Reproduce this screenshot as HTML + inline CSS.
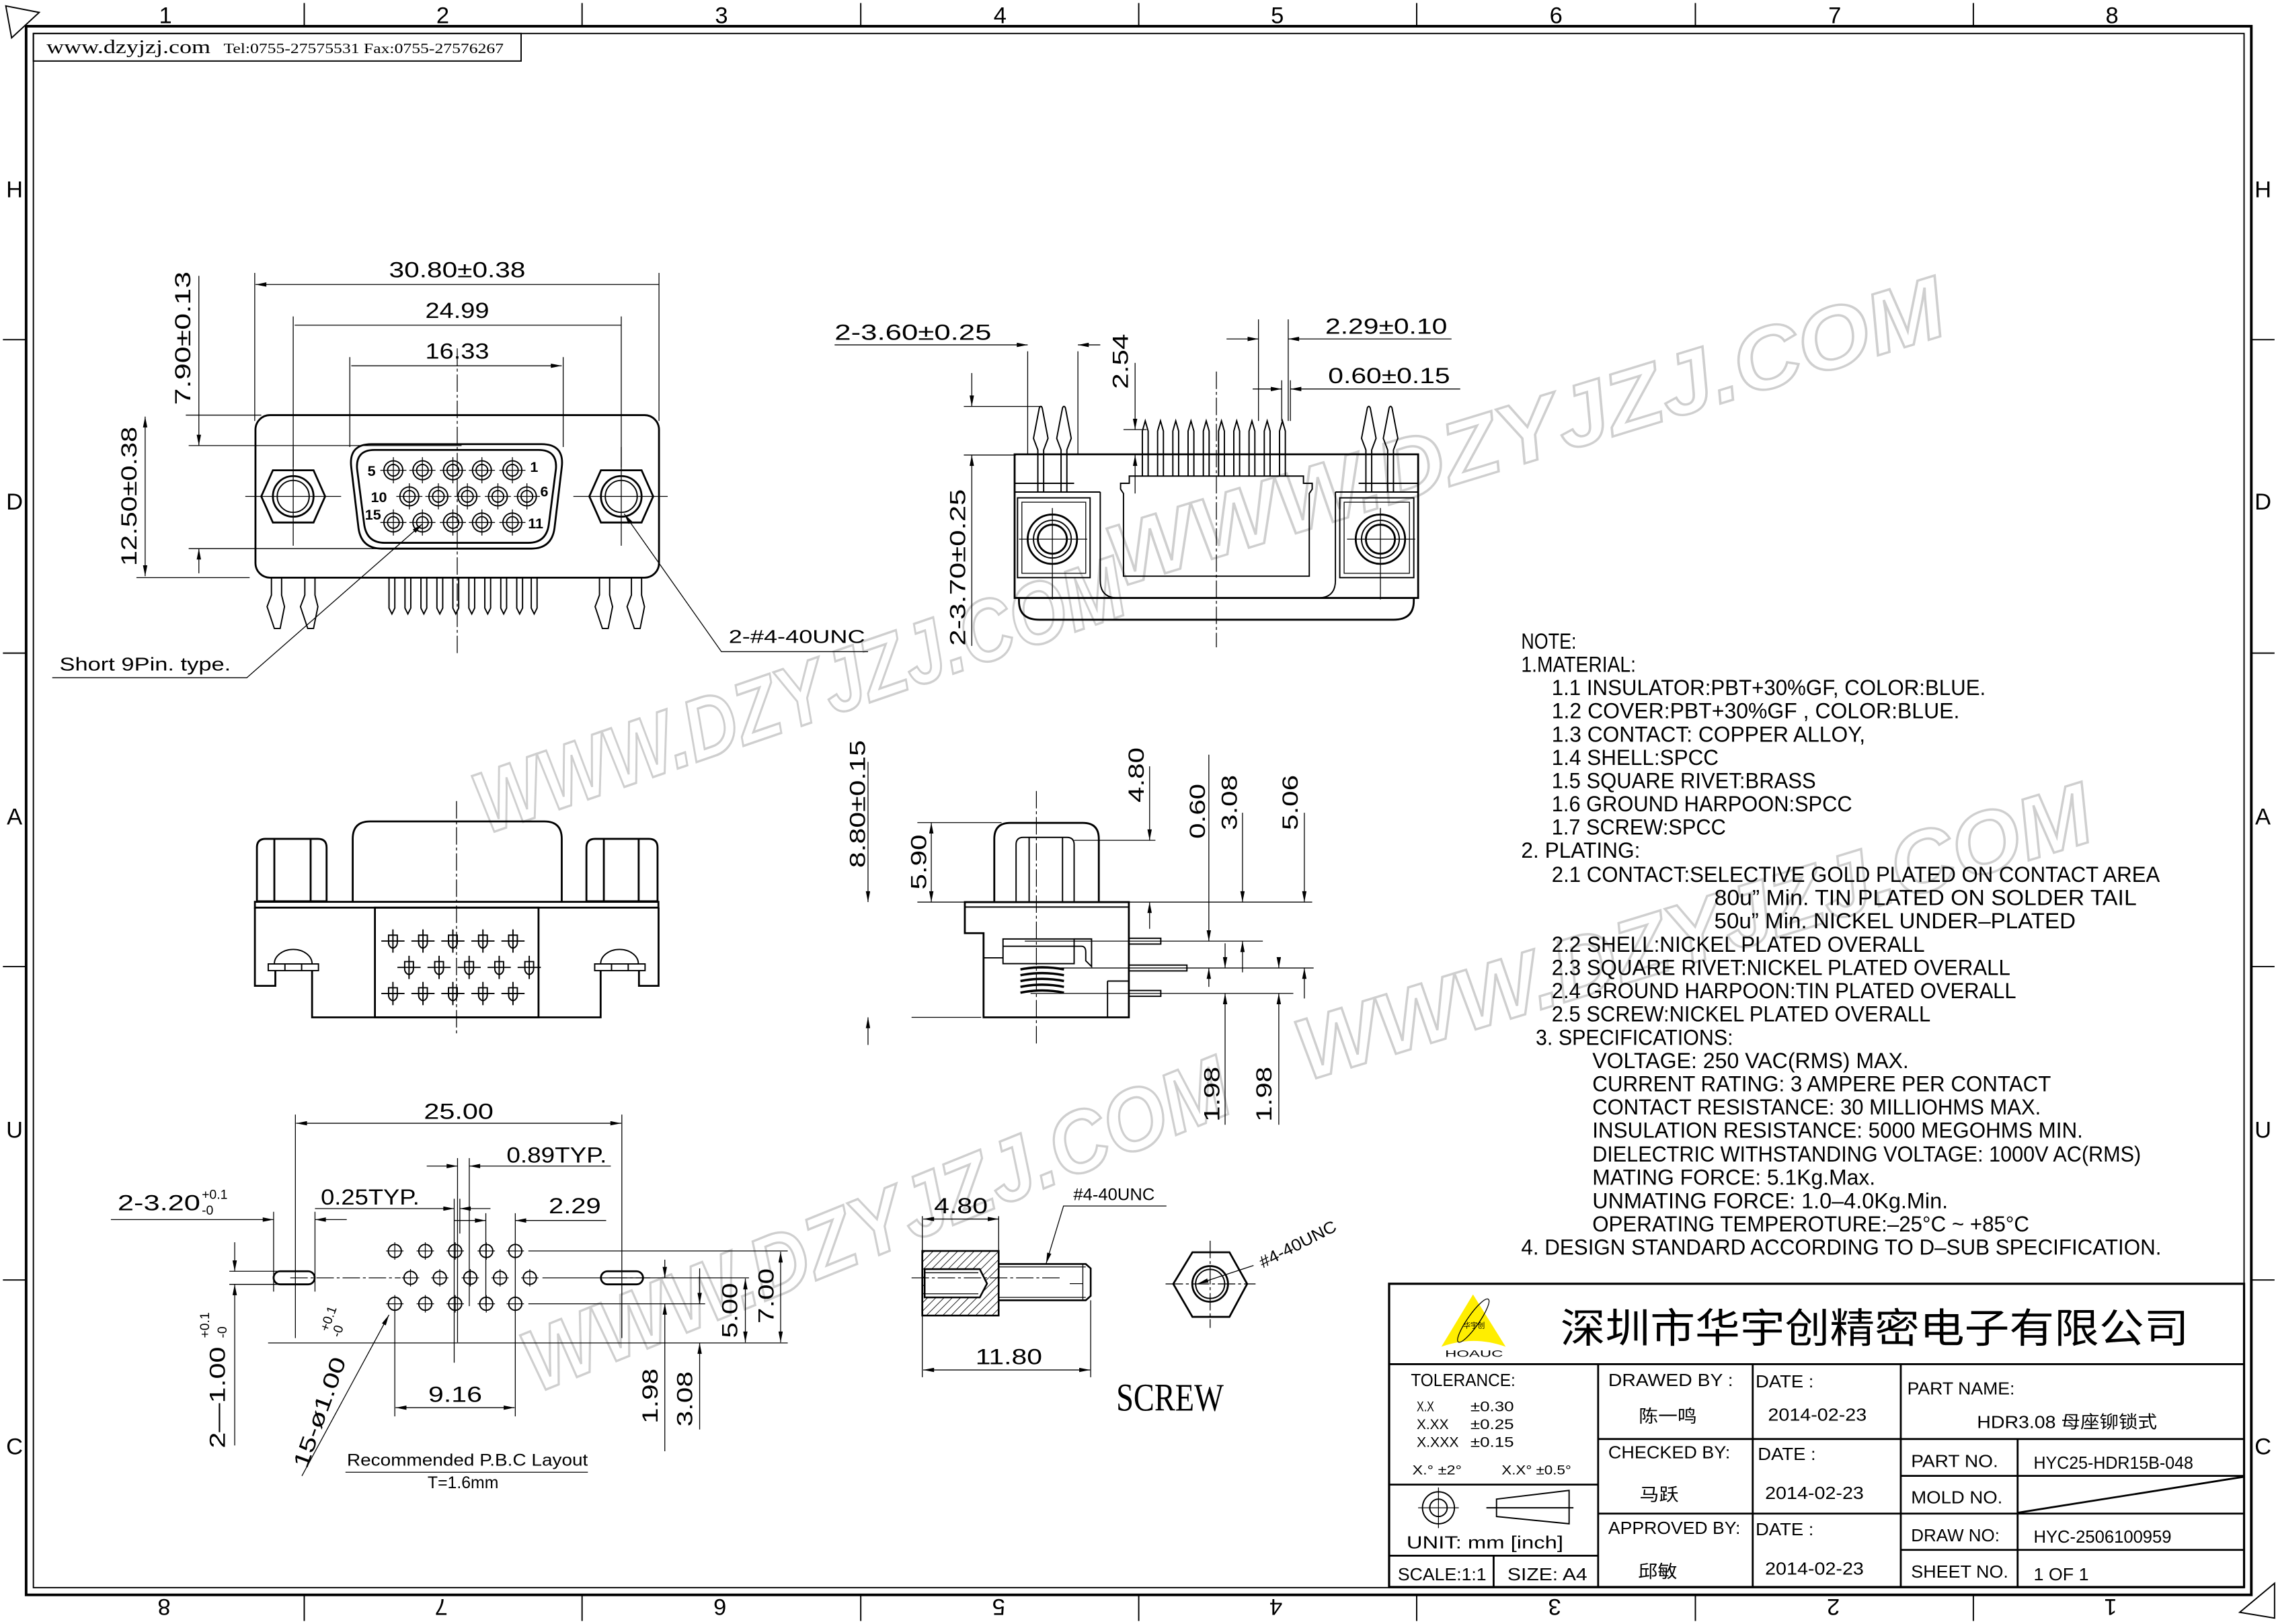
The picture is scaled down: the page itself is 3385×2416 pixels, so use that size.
<!DOCTYPE html>
<html><head><meta charset="utf-8"><style>
html,body{margin:0;padding:0;background:#fff}
svg{display:block}
text{font-family:"Liberation Sans","Noto Sans CJK SC",sans-serif;fill:#000}
.s{font-family:"Liberation Serif","Noto Serif CJK SC",serif}
.t{stroke:#000;stroke-width:.6;fill:none}
.k{stroke:#000;stroke-width:1.3;fill:none}
.m{stroke:#000;stroke-width:.9;fill:none}
.c{stroke:#000;stroke-width:.6;fill:none;stroke-dasharray:12 2 2 2}
.d{stroke:#000;stroke-width:.6;fill:none;marker-start:url(#a);marker-end:url(#a)}
.e{stroke:#000;stroke-width:.6;fill:none;marker-end:url(#a)}
.w{fill:none;stroke:#cfcfcf;stroke-width:1.6;font-weight:bold;font-style:italic}
</style></head><body>
<svg width="3385" height="2416" viewBox="0 0 1568 1119" xmlns="http://www.w3.org/2000/svg">
<defs>
<marker id="a" viewBox="0 0 10 4" refX="10" refY="2" markerWidth="9" markerHeight="3" markerUnits="userSpaceOnUse" orient="auto-start-reverse"><path d="M0,0L10,2L0,4z" fill="#000"/></marker>
<pattern id="h" width="4" height="4" patternUnits="userSpaceOnUse" patternTransform="rotate(45)"><line x1="0" y1="0" x2="0" y2="4" stroke="#000" stroke-width="0.8"/></pattern>
<g id="p"><circle r="6.5" class="m"/><circle r="4" class="m"/><path d="M-9,0H9M0,-9V9" class="t"/></g>
<g id="ph"><circle r="4.5" class="m"/><path d="M-6,0H6M0,-6V6" class="t"/></g>
<g id="pf"><path d="M-3,-4V1Q-3,4 0,5Q3,4 3,1V-4Z" class="m"/><path d="M-8,0H8M0,-8V8" class="m"/></g>
</defs>

<!-- watermarks -->
<g>
<text class="w" font-size="60" textLength="470" lengthAdjust="spacingAndGlyphs" transform="translate(335,575) rotate(-19)">WWW.DZYJZJ.COM</text>
<text class="w" font-size="60" textLength="600" lengthAdjust="spacingAndGlyphs" transform="translate(770,405) rotate(-17)">WWW.DZYJZJ.COM</text>
<text class="w" font-size="60" textLength="570" lengthAdjust="spacingAndGlyphs" transform="translate(900,745) rotate(-17)">WWW.DZYJZJ.COM</text>
<text class="w" font-size="60" textLength="520" lengthAdjust="spacingAndGlyphs" transform="translate(370,960) rotate(-22)">WWW.DZYJZJ.COM</text>
</g>

<!-- frame -->
<rect x="18" y="18" width="1533" height="1081" stroke="#000" stroke-width="1.8" fill="none"/>
<rect x="23" y="23" width="1523" height="1071" class="m"/>
<path d="M4,4L27,8.5L8,26Z M1567,1091L1543,1111L1567,1115Z" class="m"/>
<g class="m">
<path d="M209.6,2V18M401,2V18M593,2V18M784.5,2V18M976,2V18M1168,2V18M1359.5,2V18"/>
<path d="M209.6,1099V1117M401,1099V1117M593,1099V1117M784.5,1099V1117M976,1099V1117M1168,1099V1117M1359.5,1099V1117"/>
<path d="M2,234H18M2,450H18M2,666H18M2,882H18M1551,234H1567M1551,450H1567M1551,666H1567M1551,882H1567"/>
</g>
<g font-size="16" text-anchor="middle">
<text x="114" y="16">1</text><text x="305" y="16">2</text><text x="497" y="16">3</text><text x="689" y="16">4</text><text x="880" y="16">5</text><text x="1072" y="16">6</text><text x="1264" y="16">7</text><text x="1455" y="16">8</text>
<g transform="rotate(180 784 1108)">
<text x="114" y="1114">1</text><text x="305" y="1114">2</text><text x="497" y="1114">3</text><text x="689" y="1114">4</text><text x="880" y="1114">5</text><text x="1072" y="1114">6</text><text x="1264" y="1114">7</text><text x="1455" y="1114">8</text></g>
<text x="10" y="136">H</text><text x="10" y="351">D</text><text x="10" y="568">A</text><text x="10" y="784">U</text><text x="10" y="1002">C</text>
<text x="1559" y="136">H</text><text x="1559" y="351">D</text><text x="1559" y="568">A</text><text x="1559" y="784">U</text><text x="1559" y="1002">C</text>
</g>
<rect x="23" y="23" width="336" height="19" class="m"/>
<text class="s" x="32" y="36.5" font-size="13" textLength="113" lengthAdjust="spacingAndGlyphs">www.dzyjzj.com</text>
<text class="s" x="154" y="36.5" font-size="10" textLength="193" lengthAdjust="spacingAndGlyphs">Tel:0755-27575531  Fax:0755-27576267</text>

<!-- ===== TOP LEFT VIEW ===== -->
<rect x="176" y="286" width="278" height="112" rx="10" class="k"/>
<path d="M256,306H373Q389,306 387,322L382,364Q380,378 366,378H263Q249,378 247,364L242,322Q240,306 256,306Z" class="k"/>
<path d="M258,310H371Q384,310 383,323L378,362Q376,374 364,374H265Q253,374 251,362L246,323Q245,310 258,310Z" class="k"/>
<use href="#p" x="271" y="324"/><use href="#p" x="291" y="324"/><use href="#p" x="312" y="324"/><use href="#p" x="332" y="324"/><use href="#p" x="353" y="324"/>
<use href="#p" x="282" y="342"/><use href="#p" x="302" y="342"/><use href="#p" x="322" y="342"/><use href="#p" x="343" y="342"/><use href="#p" x="363" y="342"/>
<use href="#p" x="271" y="360"/><use href="#p" x="291" y="360"/><use href="#p" x="312" y="360"/><use href="#p" x="332" y="360"/><use href="#p" x="353" y="360"/>
<g font-size="10" font-weight="bold" text-anchor="middle">
<text x="256" y="328">5</text><text x="368" y="325">1</text><text x="261" y="346">10</text><text x="375" y="342">6</text><text x="257" y="358">15</text><text x="369" y="364">11</text></g>
<polygon points="180,342 188,324 216,324 224,342 216,360 188,360" class="k"/>
<circle cx="202" cy="342" r="14" class="k"/><circle cx="202" cy="342" r="11" class="m"/>
<polygon points="406,342 414,324 442,324 450,342 442,360 414,360" class="k"/>
<circle cx="428" cy="342" r="14" class="k"/><circle cx="428" cy="342" r="11" class="m"/>
<path d="M169,342H235M395,342H460M202,308V376M428,308V376" class="t"/>
<path d="M315,240V450" class="c"/>
<g class="m">
<path d="M187,398V410L184,418L189,433H193L196,418L194,410V398"/>
<path d="M210,398V410L207,418L212,433H216L219,418L217,410V398"/>
<path d="M413,398V410L410,418L415,433H419L422,418L420,410V398"/>
<path d="M435,398V410L432,418L437,433H441L444,418L442,410V398"/>
<path d="M268,398V419L270,423L272,419V398M279,398V419L281,423L283,419V398M290,398V419L292,423L294,419V398M301,398V419L303,423L305,419V398M312,398V419L314,423L316,419V398M323,398V419L325,423L327,419V398M334,398V419L336,423L338,419V398M345,398V419L347,423L349,419V398M356,398V419L358,423L360,419V398M366,398V419L368,423L370,419V398"/>
</g>
<!-- dims -->
<path d="M175.5,290V188M454,290V188M202,322V218M428,322V218M241,308V246M388,308V246" class="t"/>
<path d="M176,196H454M203,224H428M242,252H387" class="d"/>
<g font-size="15" text-anchor="middle">
<text x="315" y="191" textLength="94" lengthAdjust="spacingAndGlyphs">30.80±0.38</text>
<text x="315" y="219" textLength="44" lengthAdjust="spacingAndGlyphs">24.99</text>
<text x="315" y="247" textLength="44" lengthAdjust="spacingAndGlyphs">16.33</text>
</g>
<path d="M130,307H318M130,378H318M128,286H180M94,398H172" class="t"/>
<path d="M137,190V307" class="e"/><path d="M137,395V378" class="e"/>
<path d="M100,287V397" class="d"/>
<text font-size="15" text-anchor="middle" transform="translate(131,233) rotate(-90)" textLength="92" lengthAdjust="spacingAndGlyphs">7.90±0.13</text>
<text font-size="15" text-anchor="middle" transform="translate(94,342) rotate(-90)" textLength="96" lengthAdjust="spacingAndGlyphs">12.50±0.38</text>
<text x="41" y="462" font-size="13" textLength="118" lengthAdjust="spacingAndGlyphs">Short 9Pin. type.</text>
<path d="M36,467H170L291,361" class="e"/>
<text x="502" y="443" font-size="13" textLength="94" lengthAdjust="spacingAndGlyphs">2-#4-40UNC</text>
<path d="M598,449H497L430,354" class="e"/>

<!-- ===== TOP MIDDLE SIDE VIEW ===== -->
<g>
<path d="M699,313H977V412H699Z" class="k"/>
<path d="M702,412V414Q702,427 716,427H960Q974,427 974,414V412" class="k"/>
<path d="M699,333H740M699,339H758M920,339H977M936,333H977" class="m"/>
<rect x="701" y="343" width="50" height="55" class="m"/><rect x="704" y="346" width="44" height="49" class="t"/>
<rect x="923" y="343" width="51" height="55" class="m"/><rect x="926" y="346" width="45" height="49" class="t"/>
<path d="M758,339V400Q758,412 770,412H908Q920,412 920,400V339" class="m"/>
<path d="M774,397V340L772,337V333H778V328H898V333H904V337L902,340V397Z" class="m"/>
<circle cx="725" cy="371.5" r="17" class="k"/><circle cx="725" cy="371.5" r="13" class="m"/><circle cx="725" cy="371.5" r="10" class="k"/>
<circle cx="951" cy="371.5" r="17" class="k"/><circle cx="951" cy="371.5" r="13" class="m"/><circle cx="951" cy="371.5" r="10" class="k"/>
<path d="M702,371.5H749M725,350V413M928,371.5H975M951,350V413" class="t"/>
<g class="m">
<path d="M715,339V310L712,302L716,281Q717,279 718,281L722,302L719,310V339"/>
<path d="M731,339V310L728,302L732,281Q733,279 734,281L738,302L735,310V339"/>
<path d="M941,339V310L938,302L942,281Q943,279 944,281L948,302L945,310V339"/>
<path d="M956,339V310L953,302L957,281Q958,279 959,281L963,302L960,310V339"/>
<path d="M787,328V297L789,290L791,297V328M797.5,328V297L799.5,290L801.5,297V328M808,328V297L810,290L812,297V328M818.5,328V297L820.5,290L822.5,297V328M829,328V297L831,290L833,297V328M839.5,328V297L841.5,290L843.5,297V328M850,328V297L852,290L854,297V328M860.5,328V297L862.5,290L864.5,297V328M871,328V297L873,290L875,297V328M881.5,328V297L883.5,290L885.5,297V328"/>
</g>
<path d="M838,256V446" class="c"/>
<path d="M708,242V313M742.6,242V313M867,220V290M887.5,220V290M883,262V290M889,262V290M774,296H790M664,280H718M664,313.5H700" class="t"/>
<path d="M575,237.6H708" class="e"/><path d="M758,237.6H742.6" class="e"/>
<path d="M782,250V296" class="e"/><path d="M782,340V313.5" class="e"/>
<path d="M845,233.5H867" class="e"/><path d="M1000,233.5H887.5" class="e"/>
<path d="M863,268H883" class="e"/><path d="M1006,268H889" class="e"/>
<path d="M669.5,257V280" class="e"/><path d="M669.5,445V313.5" class="e"/>
<g font-size="15">
<text x="575" y="234" textLength="108" lengthAdjust="spacingAndGlyphs">2-3.60±0.25</text>
<text x="913" y="230" textLength="84" lengthAdjust="spacingAndGlyphs">2.29±0.10</text>
<text x="915" y="264" textLength="84" lengthAdjust="spacingAndGlyphs">0.60±0.15</text>
<text text-anchor="middle" transform="translate(777,249) rotate(-90)" textLength="38" lengthAdjust="spacingAndGlyphs">2.54</text>
<text text-anchor="middle" transform="translate(665,391) rotate(-90)" textLength="108" lengthAdjust="spacingAndGlyphs">2-3.70±0.25</text>
</g>
</g>

<!-- ===== MIDDLE LEFT FRONT VIEW ===== -->
<g>
<path d="M243,621V578Q243,566 255,566H375Q387,566 387,578V621" class="k"/>
<path d="M177,621V584Q177,578 183,578H219Q225,578 225,584V621ZM189,578V621M214,578V621" class="k"/>
<path d="M404,621V584Q404,578 410,578H447Q453,578 453,584V621ZM416,578V621M440,578V621" class="k"/>
<rect x="175.6" y="621.4" width="278" height="4" class="k"/>
<path d="M175.6,625.4V679.3H189.7V668.8M215,668.8V701H413.8V668.8M440.2,668.8V679.3H453.7V625.4" class="k"/>
<rect x="184.8" y="664.2" width="34.6" height="4.6" class="m"/><path d="M196.3,664.2V668.8M207.8,664.2V668.8" class="m"/>
<path d="M189,664.2A13,10 0 0 1 215,664.2" class="m"/>
<rect x="409.7" y="664.2" width="34.7" height="4.6" class="m"/><path d="M421.3,664.2V668.8M432.8,664.2V668.8" class="m"/>
<path d="M413.8,664.2A13,10 0 0 1 439.8,664.2" class="m"/>
<rect x="258.3" y="625.4" width="112.7" height="75.6" class="k"/>
<use href="#pf" x="270.7" y="648.4"/><use href="#pf" x="291.4" y="648.4"/><use href="#pf" x="312" y="648.4"/><use href="#pf" x="332.7" y="648.4"/><use href="#pf" x="353.4" y="648.4"/>
<use href="#pf" x="281.8" y="666.6"/><use href="#pf" x="302.5" y="666.6"/><use href="#pf" x="323.2" y="666.6"/><use href="#pf" x="343.9" y="666.6"/><use href="#pf" x="364.6" y="666.6"/>
<use href="#pf" x="270.7" y="684.6"/><use href="#pf" x="291.4" y="684.6"/><use href="#pf" x="312" y="684.6"/><use href="#pf" x="332.7" y="684.6"/><use href="#pf" x="353.4" y="684.6"/>
<path d="M314.5,552V712" class="c"/>
</g>

<!-- ===== MIDDLE SIDE VIEW ===== -->
<g>
<path d="M685,621V578Q685,567 696,567H746Q757,567 757,578V621" class="k"/>
<path d="M700,621V582Q700,577 705,577H735Q740,577 740,582V621M709,577V621M732,577V621" class="m"/>
<path d="M664.7,621.6H777.7V701H677.6V643H664.7Z" class="k"/>
<path d="M664.7,625H777.7" class="m"/>
<rect x="691" y="647" width="49" height="17" class="m"/><path d="M691,652H745Q748,652 748,656V662L752,666V647H740" class="m"/>
<path d="M677.6,660H691M763,676V701M763,676H777.7" class="m"/>
<path d="M703,668Q718,665 733,668M703,672Q718,669 733,672M703,676Q718,673 733,676M703,680Q718,677 733,680M703,684Q718,681 733,684" stroke="#000" stroke-width="1.6" fill="none"/>
<g class="m">
<rect x="777.7" y="646.5" width="22" height="4"/><rect x="777.7" y="665" width="40" height="4"/><rect x="777.7" y="682.5" width="22" height="4"/>
</g>
<path d="M714,545V720" class="c"/>
<path d="M706,648.5H870M713,667H905M710,684.5H891M632,621.6H904M632,566.8H690M628,701H676M740,579H796" class="t"/>
<path d="M598,525V621.6" class="e"/><path d="M598,720V701" class="e"/>
<path d="M641.6,566.8V621.6" class="d"/>
<path d="M792,528V579" class="e"/><path d="M792,640V621.6" class="e"/>
<path d="M832.8,520V648.5" class="e"/><path d="M832.8,680V667" class="e"/>
<path d="M844,650V667" class="e"/><path d="M844,775V684.5" class="e"/>
<path d="M856,560V621.6" class="e"/><path d="M856,670V648.5" class="e"/>
<path d="M881,660V667" class="e"/><path d="M881,775V684.5" class="e"/>
<path d="M898.6,560V621.6" class="e"/><path d="M898.6,688V667" class="e"/>
<g font-size="15" text-anchor="middle">
<text transform="translate(596,554) rotate(-90)" textLength="88" lengthAdjust="spacingAndGlyphs">8.80±0.15</text>
<text transform="translate(638,594) rotate(-90)" textLength="38" lengthAdjust="spacingAndGlyphs">5.90</text>
<text transform="translate(788,534) rotate(-90)" textLength="38" lengthAdjust="spacingAndGlyphs">4.80</text>
<text transform="translate(830,559) rotate(-90)" textLength="38" lengthAdjust="spacingAndGlyphs">0.60</text>
<text transform="translate(852,553) rotate(-90)" textLength="38" lengthAdjust="spacingAndGlyphs">3.08</text>
<text transform="translate(894,553) rotate(-90)" textLength="38" lengthAdjust="spacingAndGlyphs">5.06</text>
<text transform="translate(840,754) rotate(-90)" textLength="38" lengthAdjust="spacingAndGlyphs">1.98</text>
<text transform="translate(876,754) rotate(-90)" textLength="38" lengthAdjust="spacingAndGlyphs">1.98</text>
</g>
</g>

<!-- ===== PCB LAYOUT ===== -->
<g>
<rect x="188.5" y="876" width="28.3" height="9" rx="4.5" class="k"/>
<rect x="414" y="876" width="29" height="9" rx="4.5" class="k"/>
<use href="#ph" x="272" y="862"/><use href="#ph" x="293" y="862"/><use href="#ph" x="313.6" y="862"/><use href="#ph" x="335" y="862"/><use href="#ph" x="355" y="862"/>
<use href="#ph" x="282.8" y="880.5"/><use href="#ph" x="303" y="880.5"/><use href="#ph" x="324" y="880.5"/><use href="#ph" x="344.5" y="880.5"/><use href="#ph" x="365" y="880.5"/>
<use href="#ph" x="272" y="898.4"/><use href="#ph" x="293" y="898.4"/><use href="#ph" x="313.6" y="898.4"/><use href="#ph" x="335" y="898.4"/><use href="#ph" x="355" y="898.4"/>
<path d="M200,880.5H276M420,880.5H448" class="c"/>
<path d="M203.5,768V922M428.4,768V922M315.2,798V925M323.3,798V900M312.9,826V939M316.8,826V850M188.5,835V890M217,835V890M334.7,836V900M355,836V976M272,902V976M364,862H542.7M373.7,880.5H516M364,898.4H485.8M184.7,925.4H542.7M158,876H205M158,885H205" class="t"/>
<path d="M204,774H428" class="d"/>
<path d="M294,803.5H315.2" class="e"/><path d="M420.8,803.5H323.3" class="e"/>
<path d="M217,832.8H312.9" class="e"/><path d="M337.9,832.8H316.8" class="e"/>
<path d="M76.4,840.4H188.5" class="e"/><path d="M238.9,840.4H217" class="e"/>
<path d="M312.9,841H334.7" class="e"/><path d="M417.6,841H355" class="e"/>
<path d="M272.5,970H354.5" class="d"/>
<path d="M458,868V880.5" class="e"/><path d="M458,1000V898.4" class="e"/>
<path d="M482,874V898.4" class="e"/><path d="M482,985V925.4" class="e"/>
<path d="M513.5,881V925" class="d"/><path d="M537.8,862.5V925" class="d"/>
<path d="M161.7,856V876" class="e"/><path d="M161.7,996V885" class="e"/>
<path d="M208,1017L268,906" class="e"/>
<g font-size="15">
<text x="316" y="771" text-anchor="middle" textLength="48" lengthAdjust="spacingAndGlyphs">25.00</text>
<text x="349" y="801" textLength="69" lengthAdjust="spacingAndGlyphs">0.89TYP.</text>
<text x="221" y="830" textLength="68" lengthAdjust="spacingAndGlyphs">0.25TYP.</text>
<text x="378" y="836" textLength="36" lengthAdjust="spacingAndGlyphs">2.29</text>
<text x="81" y="834" textLength="57" lengthAdjust="spacingAndGlyphs">2-3.20</text>
<text x="139" y="826" font-size="9">+0.1</text><text x="139" y="837" font-size="9">-0</text>
<text x="313.6" y="966" text-anchor="middle" textLength="37" lengthAdjust="spacingAndGlyphs">9.16</text>
<text transform="translate(453,962) rotate(-90)" text-anchor="middle" textLength="38" lengthAdjust="spacingAndGlyphs">1.98</text>
<text transform="translate(477,964) rotate(-90)" text-anchor="middle" textLength="38" lengthAdjust="spacingAndGlyphs">3.08</text>
<text transform="translate(508,903) rotate(-90)" text-anchor="middle" textLength="38" lengthAdjust="spacingAndGlyphs">5.00</text>
<text transform="translate(533,893) rotate(-90)" text-anchor="middle" textLength="38" lengthAdjust="spacingAndGlyphs">7.00</text>
<text transform="translate(155,963) rotate(-90)" text-anchor="middle" textLength="70" lengthAdjust="spacingAndGlyphs">2—1.00</text>
<text transform="translate(144,922) rotate(-90)" font-size="9">+0.1</text>
<text transform="translate(156,922) rotate(-90)" font-size="9">-0</text>
<text transform="translate(225,975) rotate(-70)" text-anchor="middle" textLength="80" lengthAdjust="spacingAndGlyphs">15-ø1.00</text>
<text transform="translate(226,918) rotate(-70)" font-size="9">+0.1</text>
<text transform="translate(234,922) rotate(-70)" font-size="9">-0</text>
</g>
<text x="239" y="1010" font-size="11.5" textLength="166" lengthAdjust="spacingAndGlyphs">Recommended  P.B.C  Layout</text>
<path d="M238,1014.5H405" class="t"/>
<text x="319" y="1025.5" font-size="11.5" text-anchor="middle">T=1.6mm</text>
</g>

<!-- ===== SCREW ===== -->
<g>
<rect x="635.4" y="862" width="52.6" height="44.5" fill="url(#h)" stroke="#000" stroke-width="1.2"/>
<path d="M637,874.5H675L680,884.5L675,894H637Z" fill="#fff" stroke="#000" stroke-width="1.2"/>
<path d="M637,877H674M637,891.5H674" class="t"/>
<path d="M688,871H748L751.4,874V893L748,896H688Z" fill="#fff" stroke="#000" stroke-width="1.2"/>
<path d="M688,873H748M688,894H748M746,871V896M737,884.5H746" class="t"/>
<path d="M628,880.5H730" class="c"/>
<path d="M635.4,838V862M688,838V862M635.4,906V949M751.4,896V949" class="t"/>
<path d="M636,840H688" class="d"/><path d="M636,944H751" class="d"/>
<text x="662" y="836" font-size="15" text-anchor="middle" textLength="37" lengthAdjust="spacingAndGlyphs">4.80</text>
<text x="695" y="940" font-size="15" text-anchor="middle" textLength="46" lengthAdjust="spacingAndGlyphs">11.80</text>
<text x="739.5" y="827" font-size="11.5" textLength="56" lengthAdjust="spacingAndGlyphs">#4-40UNC</text>
<path d="M803.6,831H732.7L720.7,870.7" class="e"/>
<polygon points="808.3,884.7 821.5,862.9 847,862.9 859.2,884.7 847,907.4 821.5,907.4" class="k"/>
<circle cx="833.7" cy="884.7" r="12.3" class="k"/><circle cx="833.7" cy="884.7" r="10" class="m"/>
<path d="M833.7,855V915M803,884.7H865" class="c"/>
<path d="M863.6,872L825,884.7" class="e"/>
<text transform="translate(870,874) rotate(-27)" font-size="11.5" textLength="58" lengthAdjust="spacingAndGlyphs">#4-40UNC</text>
<text class="s" x="769" y="972" font-size="27" textLength="74" lengthAdjust="spacingAndGlyphs">SCREW</text>
</g>

<!-- ===== NOTES ===== -->
<g font-size="15" lengthAdjust="spacingAndGlyphs">
<text x="1048" y="447" textLength="38" lengthAdjust="spacingAndGlyphs">NOTE:</text>
<text x="1048" y="463" textLength="79" lengthAdjust="spacingAndGlyphs">1.MATERIAL:</text>
<text x="1069" y="479" textLength="299" lengthAdjust="spacingAndGlyphs">1.1  INSULATOR:PBT+30%GF,  COLOR:BLUE.</text>
<text x="1069" y="495" textLength="281" lengthAdjust="spacingAndGlyphs">1.2  COVER:PBT+30%GF  ,  COLOR:BLUE.</text>
<text x="1069" y="511" textLength="216" lengthAdjust="spacingAndGlyphs">1.3  CONTACT:  COPPER  ALLOY,</text>
<text x="1069" y="527" textLength="115" lengthAdjust="spacingAndGlyphs">1.4  SHELL:SPCC</text>
<text x="1069" y="543" textLength="182" lengthAdjust="spacingAndGlyphs">1.5  SQUARE  RIVET:BRASS</text>
<text x="1069" y="559" textLength="207" lengthAdjust="spacingAndGlyphs">1.6  GROUND  HARPOON:SPCC</text>
<text x="1069" y="575" textLength="120" lengthAdjust="spacingAndGlyphs">1.7  SCREW:SPCC</text>
<text x="1048" y="591" textLength="82" lengthAdjust="spacingAndGlyphs">2.  PLATING:</text>
<text x="1069" y="607.6" textLength="419" lengthAdjust="spacingAndGlyphs">2.1  CONTACT:SELECTIVE  GOLD  PLATED  ON  CONTACT  AREA</text>
<text x="1181" y="623.7" textLength="291" lengthAdjust="spacingAndGlyphs">80u”  Min.  TIN  PLATED  ON  SOLDER  TAIL</text>
<text x="1181" y="639.7" textLength="249" lengthAdjust="spacingAndGlyphs">50u”  Min.  NICKEL  UNDER–PLATED</text>
<text x="1069" y="655.8" textLength="257" lengthAdjust="spacingAndGlyphs">2.2  SHELL:NICKEL  PLATED  OVERALL</text>
<text x="1069" y="671.8" textLength="316" lengthAdjust="spacingAndGlyphs">2.3  SQUARE  RIVET:NICKEL  PLATED  OVERALL</text>
<text x="1069" y="687.9" textLength="320" lengthAdjust="spacingAndGlyphs">2.4  GROUND  HARPOON:TIN  PLATED  OVERALL</text>
<text x="1069" y="703.9" textLength="261" lengthAdjust="spacingAndGlyphs">2.5  SCREW:NICKEL  PLATED  OVERALL</text>
<text x="1058" y="720" textLength="136" lengthAdjust="spacingAndGlyphs">3.  SPECIFICATIONS:</text>
<text x="1097" y="736" textLength="218" lengthAdjust="spacingAndGlyphs">VOLTAGE:  250  VAC(RMS)  MAX.</text>
<text x="1097" y="752" textLength="316" lengthAdjust="spacingAndGlyphs">CURRENT  RATING:  3  AMPERE  PER  CONTACT</text>
<text x="1097" y="768" textLength="309" lengthAdjust="spacingAndGlyphs">CONTACT  RESISTANCE:  30  MILLIOHMS  MAX.</text>
<text x="1097" y="784" textLength="338" lengthAdjust="spacingAndGlyphs">INSULATION  RESISTANCE:  5000  MEGOHMS  MIN.</text>
<text x="1097" y="800.4" textLength="378" lengthAdjust="spacingAndGlyphs">DIELECTRIC  WITHSTANDING  VOLTAGE:  1000V  AC(RMS)</text>
<text x="1097" y="816.4" textLength="195" lengthAdjust="spacingAndGlyphs">MATING  FORCE:  5.1Kg.Max.</text>
<text x="1097" y="832.5" textLength="245" lengthAdjust="spacingAndGlyphs">UNMATING  FORCE:  1.0–4.0Kg.Min.</text>
<text x="1097" y="848.5" textLength="301" lengthAdjust="spacingAndGlyphs">OPERATING  TEMPEROTURE:–25°C  ~  +85°C</text>
<text x="1048" y="864.6" textLength="441" lengthAdjust="spacingAndGlyphs">4.  DESIGN  STANDARD  ACCORDING  TO  D–SUB  SPECIFICATION.</text>
</g>

<!-- ===== TITLE BLOCK ===== -->
<g>
<rect x="957" y="884.6" width="589" height="209" fill="#fff" stroke="#000" stroke-width="1.5"/>
<path d="M957,940H1546M1101,940V1093.6M1207.5,940V1093.6M1309.5,940V1093.6M957,1023H1101M957,1072H1101M1029,1072V1093.6M1101,991.6H1309.5M1101,1043H1309.5M1309.5,991.6H1546M1309.5,1017H1546M1309.5,1043H1546M1309.5,1068H1546M1390,991.6V1093.6" stroke="#000" stroke-width="1.3" fill="none"/>
<path d="M1390,1042.4L1546,1017.6" stroke="#000" stroke-width="1.3"/>
<path d="M1014.8,892L993,928Q1015,920 1037.3,928Z" fill="#ffee00"/>
<ellipse cx="1015" cy="910" rx="4" ry="18" transform="rotate(35 1015 910)" class="t"/>
<text x="1015.5" y="915" font-size="5" text-anchor="middle">华宇创</text>
<text x="1015.5" y="935" font-size="6.5" text-anchor="middle" textLength="40" lengthAdjust="spacingAndGlyphs">HOAUC</text>
<text x="1075" y="925" font-size="28" textLength="433" lengthAdjust="spacingAndGlyphs">深圳市华宇创精密电子有限公司</text>
<g font-size="12">
<text x="972" y="955" textLength="72" lengthAdjust="spacingAndGlyphs">TOLERANCE:</text>
<text x="976" y="972.5" font-size="10" textLength="12" lengthAdjust="spacingAndGlyphs">X.X</text><text x="1013" y="972.5" font-size="10" textLength="30" lengthAdjust="spacingAndGlyphs">±0.30</text>
<text x="976" y="984.7" font-size="10" textLength="22" lengthAdjust="spacingAndGlyphs">X.XX</text><text x="1013" y="984.7" font-size="10" textLength="30" lengthAdjust="spacingAndGlyphs">±0.25</text>
<text x="976" y="997" font-size="10" textLength="29" lengthAdjust="spacingAndGlyphs">X.XXX</text><text x="1013" y="997" font-size="10" textLength="30" lengthAdjust="spacingAndGlyphs">±0.15</text>
<text x="973" y="1016" font-size="9" textLength="34" lengthAdjust="spacingAndGlyphs">X.°  ±2°</text>
<text x="1034.5" y="1016" font-size="9" textLength="48" lengthAdjust="spacingAndGlyphs">X.X°  ±0.5°</text>
<text x="969" y="1067" textLength="108" lengthAdjust="spacingAndGlyphs">UNIT:  mm  [inch]</text>
<text x="963" y="1089" textLength="61" lengthAdjust="spacingAndGlyphs">SCALE:1:1</text>
<text x="1038.5" y="1089" textLength="55" lengthAdjust="spacingAndGlyphs">SIZE:  A4</text>
<text x="1108" y="955" textLength="86" lengthAdjust="spacingAndGlyphs">DRAWED  BY  :</text>
<text x="1209.5" y="956" textLength="40" lengthAdjust="spacingAndGlyphs">DATE  :</text>
<text x="1108" y="1005" textLength="84" lengthAdjust="spacingAndGlyphs">CHECKED  BY:</text>
<text x="1211" y="1006" textLength="40" lengthAdjust="spacingAndGlyphs">DATE  :</text>
<text x="1108" y="1057" textLength="91" lengthAdjust="spacingAndGlyphs">APPROVED  BY:</text>
<text x="1209.5" y="1058" textLength="40" lengthAdjust="spacingAndGlyphs">DATE  :</text>
<text x="1314" y="961" textLength="74" lengthAdjust="spacingAndGlyphs">PART  NAME:</text>
<text x="1316.6" y="1011" textLength="60" lengthAdjust="spacingAndGlyphs">PART  NO.</text>
<text x="1316.6" y="1036" textLength="63" lengthAdjust="spacingAndGlyphs">MOLD  NO.</text>
<text x="1316.6" y="1062" textLength="61" lengthAdjust="spacingAndGlyphs">DRAW  NO:</text>
<text x="1316.6" y="1087" textLength="67" lengthAdjust="spacingAndGlyphs">SHEET  NO.</text>
</g>
<circle cx="991" cy="1039" r="11" class="m"/><circle cx="991" cy="1039" r="6" class="m"/><path d="M977,1039H1005M991,1025V1053" class="t"/>
<path d="M1031,1033L1081,1027V1050L1031,1045Z M1024,1039H1084" class="m"/>
<g class="s" font-size="12" fill="#222">
<text x="1149" y="980" text-anchor="middle" textLength="40" lengthAdjust="spacingAndGlyphs">陈一鸣</text>
<text x="1143" y="1034" text-anchor="middle" textLength="27" lengthAdjust="spacingAndGlyphs">马跃</text>
<text x="1142" y="1087" text-anchor="middle" textLength="27" lengthAdjust="spacingAndGlyphs">邱敏</text>
<text x="1252" y="979" text-anchor="middle" textLength="68" lengthAdjust="spacingAndGlyphs">2014-02-23</text>
<text x="1250" y="1033" text-anchor="middle" textLength="68" lengthAdjust="spacingAndGlyphs">2014-02-23</text>
<text x="1250" y="1085" text-anchor="middle" textLength="68" lengthAdjust="spacingAndGlyphs">2014-02-23</text>
<text x="1424" y="984" text-anchor="middle" textLength="124" lengthAdjust="spacingAndGlyphs">HDR3.08 母座铆锁式</text>
<text x="1401" y="1012" textLength="110" lengthAdjust="spacingAndGlyphs">HYC25-HDR15B-048</text>
<text x="1401" y="1063" textLength="95" lengthAdjust="spacingAndGlyphs">HYC-2506100959</text>
<text x="1401" y="1089" textLength="38" lengthAdjust="spacingAndGlyphs">1 OF 1</text>
</g>
</g>
</svg>
</body></html>
